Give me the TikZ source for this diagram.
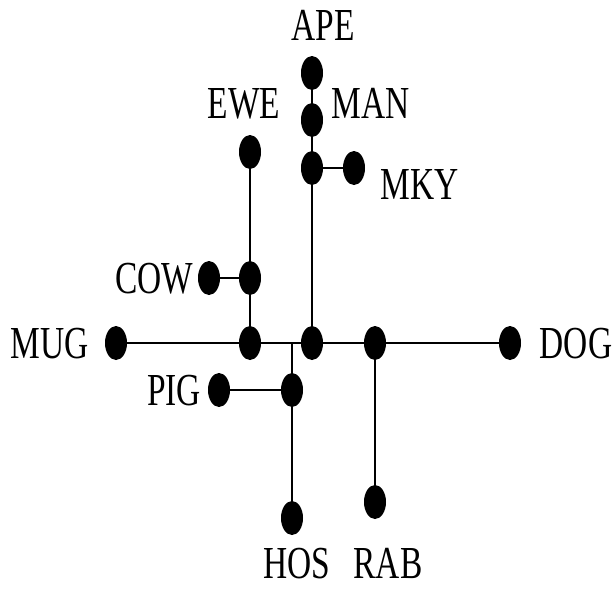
\documentclass[tikz,border=0pt]{standalone}
\usepackage{fontspec}
\newfontfamily\labelfont{Liberation Serif}
\usetikzlibrary{backgrounds,shapes.geometric}
\newcommand{\narrowtext}[1]{\scalebox{0.73}[1]{#1}}
\tikzset{
  dot/.style={ellipse, fill=black, minimum width=22pt, minimum height=34pt, inner sep=0pt},
  taxon/.style={font=\labelfont\fontsize{45.8}{46}\selectfont, inner sep=0pt, anchor=base},
  branch/.style={line width=2.5pt, black}
}
\begin{document}
\begin{tikzpicture}[x=1pt, y=-1pt]
\useasboundingbox (0,0) rectangle (615,590);
% leaves and internal nodes of the tree
\node[dot] (ape)  at (312,73)  {};
\node[dot] (man)  at (312,120) {};
\node[dot] (mkyj) at (312,168) {};
\node[dot] (mky)  at (354,168) {};
\node[dot] (ewe)  at (250,152) {};
\node[dot] (cowj) at (250,278) {};
\node[dot] (cow)  at (209,278) {};
\node[dot] (mug)  at (116,343) {};
\node[dot] (ja)   at (250,343) {};
\node[dot] (jb)   at (312,343) {};
\node[dot] (jc)   at (375,343) {};
\node[dot] (dog)  at (510,343) {};
\node[dot] (pigj) at (292,390) {};
\node[dot] (pig)  at (219,390) {};
\node[dot] (hos)  at (292,518) {};
\node[dot] (rab)  at (375,502) {};
\coordinate (root) at (292,343);
% branches
\begin{scope}[on background layer]
\draw[branch] (mug.center) -- (dog.center);
\draw[branch] (ape.center) -- (jb.center);
\draw[branch] (mkyj.center) -- (mky.center);
\draw[branch] (ewe.center) -- (ja.center);
\draw[branch] (cow.center) -- (cowj.center);
\draw[branch] (root) -- (hos.center);
\draw[branch] (pig.center) -- (pigj.center);
\draw[branch] (jc.center) -- (rab.center);
\end{scope}
% taxon labels
\node[taxon] (lape) at (323,40)  {\narrowtext{APE}};
\node[taxon] (lewe) at (244,118) {\narrowtext{EWE}};
\node[taxon] (lman) at (371,118) {\narrowtext{MAN}};
\node[taxon] (lmky) at (420,199) {\narrowtext{MKY}};
\node[taxon] (lcow) at (154,293) {\narrowtext{COW}};
\node[taxon] (lmug) at (50,358)  {\narrowtext{MUG}};
\node[taxon] (ldog) at (576,358) {\narrowtext{DOG}};
\node[taxon] (lpig) at (174,405) {\narrowtext{PIG}};
\node[taxon] (lhos) at (297,578) {\narrowtext{HOS}};
\node[taxon] (lrab) at (388,578) {\narrowtext{RAB}};
\end{tikzpicture}
\end{document}
